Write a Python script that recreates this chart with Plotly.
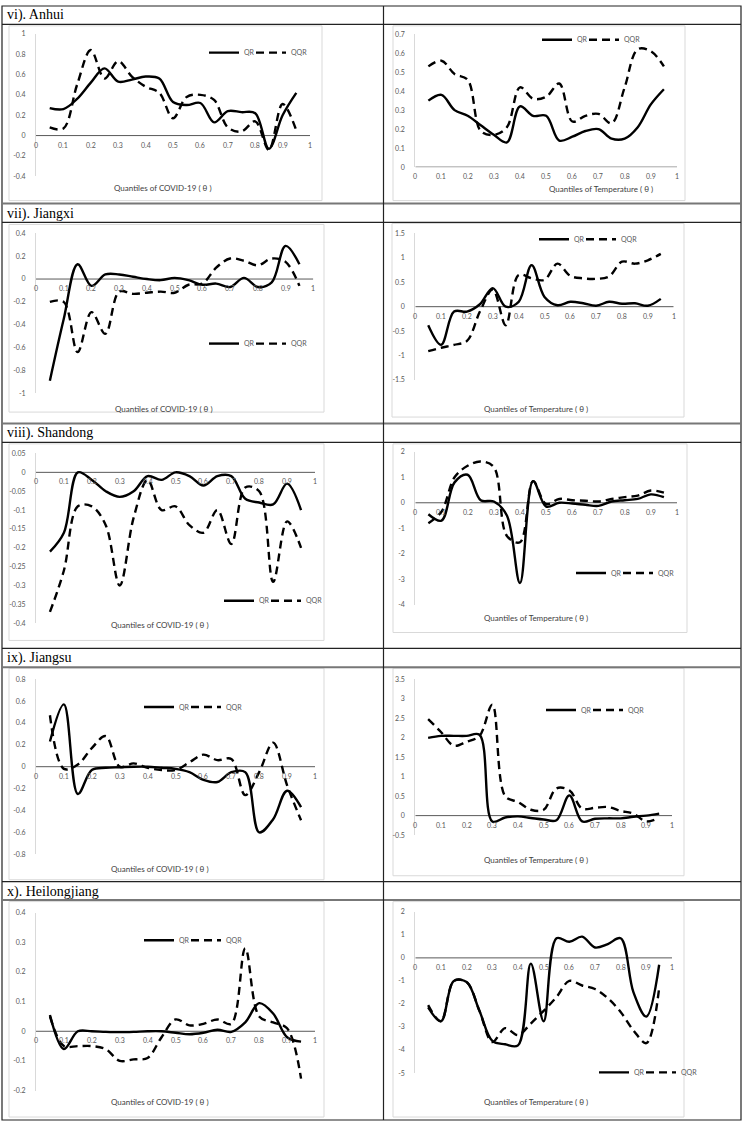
import plotly.graph_objects as go

W, H = 743, 1125

# ---------------- data ----------------
quantiles = [0.05, 0.10, 0.15, 0.20, 0.25, 0.30, 0.35, 0.40, 0.45, 0.50,
             0.55, 0.60, 0.65, 0.70, 0.75, 0.80, 0.85, 0.90, 0.95]
x_tick_labels = ["0", "0.1", "0.2", "0.3", "0.4", "0.5", "0.6", "0.7", "0.8", "0.9", "1"]
series_names = ["QR", "QQR"]
row_labels = ["vi). Anhui", "vii). Jiangxi", "viii). Shandong", "ix). Jiangsu", "x). Heilongjiang"]
x_titles = ["Quantiles of COVID-19 ( \u03b8 )", "Quantiles of Temperature ( \u03b8 )"]

anhui_covid_qr = [0.27, 0.26, 0.36, 0.52, 0.66, 0.53, 0.55, 0.58, 0.56, 0.33,
                  0.30, 0.32, 0.13, 0.24, 0.23, 0.22, -0.13, 0.20, 0.42]
anhui_covid_qqr = [0.08, 0.07, 0.50, 0.84, 0.56, 0.73, 0.58, 0.48, 0.42, 0.17,
                   0.38, 0.40, 0.35, 0.08, 0.04, 0.14, -0.14, 0.31, 0.05]
anhui_covid_yticks = ["-0.4", "-0.2", "0", "0.2", "0.4", "0.6", "0.8", "1"]

anhui_temp_qr = [0.35, 0.38, 0.30, 0.27, 0.22, 0.17, 0.13, 0.32, 0.27, 0.27,
                 0.14, 0.16, 0.19, 0.20, 0.15, 0.15, 0.21, 0.33, 0.41]
anhui_temp_qqr = [0.53, 0.56, 0.49, 0.46, 0.19, 0.17, 0.21, 0.42, 0.36, 0.37,
                  0.44, 0.24, 0.27, 0.28, 0.23, 0.42, 0.62, 0.61, 0.53]
anhui_temp_yticks = ["0", "0.1", "0.2", "0.3", "0.4", "0.5", "0.6", "0.7"]

jiangxi_covid_qr = [-0.89, -0.35, 0.13, -0.06, 0.04, 0.04, 0.02, 0.00, -0.01, 0.01,
                    -0.01, -0.05, -0.04, -0.07, 0.01, -0.07, -0.03, 0.29, 0.13]
jiangxi_covid_qqr = [-0.20, -0.20, -0.64, -0.29, -0.48, -0.11, -0.13, -0.12, -0.11, -0.12,
                     -0.05, -0.04, 0.10, 0.18, 0.16, 0.12, 0.18, 0.15, -0.06]
jiangxi_covid_yticks = ["-1", "-0.8", "-0.6", "-0.4", "-0.2", "0", "0.2", "0.4"]

jiangxi_temp_qr = [-0.38, -0.78, -0.10, -0.10, 0.05, 0.38, 0.00, 0.10, 0.85, 0.20,
                   0.03, 0.10, 0.07, 0.02, 0.10, 0.06, 0.07, 0.02, 0.16]
jiangxi_temp_qqr = [-0.91, -0.84, -0.78, -0.70, -0.10, 0.35, -0.38, 0.65, 0.58, 0.55,
                    0.88, 0.63, 0.58, 0.57, 0.62, 0.92, 0.88, 0.95, 1.08]
jiangxi_temp_yticks = ["-1.5", "-1", "-0.5", "0", "0.5", "1", "1.5"]

shandong_covid_qr = [-0.21, -0.16, 0.00, -0.02, -0.05, -0.065, -0.05, -0.01, -0.02, 0.00,
                     -0.01, -0.035, -0.01, -0.01, -0.07, -0.08, -0.085, -0.03, -0.10]
shandong_covid_qqr = [-0.37, -0.26, -0.09, -0.09, -0.14, -0.30, -0.12, -0.02, -0.10, -0.09,
                      -0.14, -0.16, -0.10, -0.19, -0.04, -0.05, -0.29, -0.13, -0.20]
shandong_covid_yticks = ["-0.4", "-0.35", "-0.3", "-0.25", "-0.2", "-0.15", "-0.1", "-0.05", "0", "0.05"]

shandong_temp_qr = [-0.45, -0.70, 0.80, 1.10, 0.10, 0.05, -0.50, -3.15, 0.85, -0.15,
                    0.00, -0.03, -0.08, -0.12, 0.05, 0.10, 0.15, 0.33, 0.22]
shandong_temp_qqr = [-0.80, -0.35, 1.00, 1.45, 1.62, 1.40, -1.30, -1.55, 0.85, -0.05,
                     0.15, 0.10, 0.08, 0.05, 0.15, 0.22, 0.28, 0.48, 0.40]
shandong_temp_yticks = ["-4", "-3", "-2", "-1", "0", "1", "2"]

jiangsu_covid_qr = [0.23, 0.57, -0.25, -0.03, -0.01, -0.005, 0.00, 0.00, -0.01, -0.02,
                    -0.05, -0.12, -0.14, -0.05, -0.05, -0.60, -0.48, -0.22, -0.37]
jiangsu_covid_qqr = [0.47, -0.02, 0.02, 0.17, 0.28, 0.00, 0.03, -0.01, -0.03, -0.03,
                     0.04, 0.11, 0.06, 0.07, -0.26, -0.05, 0.22, -0.17, -0.49]
jiangsu_covid_yticks = ["-0.8", "-0.6", "-0.4", "-0.2", "0", "0.2", "0.4", "0.6", "0.8"]

jiangsu_temp_qr = [2.00, 2.05, 2.05, 2.05, 2.08, -0.15, -0.05, -0.02, -0.06, -0.10,
                   -0.12, 0.52, -0.15, -0.08, -0.07, -0.07, -0.03, 0.00, 0.05]
jiangsu_temp_qqr = [2.48, 2.15, 1.80, 1.90, 2.05, 2.85, 0.50, 0.35, 0.15, 0.15,
                    0.70, 0.65, 0.18, 0.20, 0.22, 0.12, 0.05, -0.15, -0.05]
jiangsu_temp_yticks = ["-0.5", "0", "0.5", "1", "1.5", "2", "2.5", "3", "3.5"]

heilongjiang_covid_qr = [0.055, -0.06, 0.00, 0.00, -0.002, -0.003, -0.002, 0.00, 0.00, -0.005,
                         -0.01, -0.005, 0.005, -0.002, 0.03, 0.095, 0.06, -0.02, -0.035]
heilongjiang_covid_qqr = [0.05, -0.05, -0.05, -0.05, -0.06, -0.10, -0.095, -0.09, -0.02, 0.04,
                          0.02, 0.025, 0.04, 0.025, 0.28, 0.05, 0.03, 0.01, -0.16]
heilongjiang_covid_yticks = ["-0.2", "-0.1", "0", "0.1", "0.2", "0.3", "0.4"]

heilongjiang_temp_qr = [-2.15, -2.75, -1.00, -1.05, -2.30, -3.60, -3.75, -3.80, -0.25, -2.75,
                        0.85, 0.70, 0.92, 0.45, 0.60, 0.85, -1.50, -2.55, -0.30]
heilongjiang_temp_qqr = [-2.05, -2.75, -1.00, -1.05, -2.30, -3.65, -3.05, -3.35, -2.85, -2.30,
                         -1.70, -1.00, -1.20, -1.35, -1.75, -2.35, -3.15, -3.70, -1.30]
heilongjiang_temp_yticks = ["-5", "-4", "-3", "-2", "-1", "0", "1", "2"]

# ---------------- layout (pixel geometry) ----------------
# plot box: (x_left, x_right, y_px_of_top_tick, y_px_of_bottom_tick)
charts = [
    dict(qr=anhui_covid_qr, qqr=anhui_covid_qqr, yt=anhui_covid_yticks, col=0,
         box=(36, 310, 29, 172.5), frame=(9, 322, 21, 197), title_xy=(163, 184), leg=(212, 50)),
    dict(qr=anhui_temp_qr, qqr=anhui_temp_qqr, yt=anhui_temp_yticks, col=1,
         box=(415.3, 677, 29.3, 163.3), frame=(393, 685, 21, 197), title_xy=(601, 185), leg=(545, 37)),
    dict(qr=jiangxi_covid_qr, qqr=jiangxi_covid_qqr, yt=jiangxi_covid_yticks, col=0,
         box=(36, 313.3, 230, 391), frame=(9, 324, 221, 410), title_xy=(164, 407), leg=(212, 343)),
    dict(qr=jiangxi_temp_qr, qqr=jiangxi_temp_qqr, yt=jiangxi_temp_yticks, col=1,
         box=(415.3, 673.7, 230, 377.7), frame=(392, 684, 220, 415), title_xy=(536, 407), leg=(542, 238)),
    dict(qr=shandong_covid_qr, qqr=shandong_covid_qqr, yt=shandong_covid_yticks, col=0,
         box=(36, 315, 451.7, 622.7), frame=(9, 324, 442, 640), title_xy=(160, 624), leg=(227, 602)),
    dict(qr=shandong_temp_qr, qqr=shandong_temp_qqr, yt=shandong_temp_yticks, col=1,
         box=(415.3, 677, 450, 604), frame=(393, 687, 442, 632), title_xy=(536, 617), leg=(579, 574)),
    dict(qr=jiangsu_covid_qr, qqr=jiangsu_covid_qqr, yt=jiangsu_covid_yticks, col=0,
         box=(36, 315, 679, 855.3), frame=(9, 324, 668, 881), title_xy=(160, 870), leg=(147, 709)),
    dict(qr=jiangsu_temp_qr, qqr=jiangsu_temp_qqr, yt=jiangsu_temp_yticks, col=1,
         box=(415.3, 672, 679.3, 836), frame=(393, 684, 668, 877), title_xy=(536, 861), leg=(549, 712)),
    dict(qr=heilongjiang_covid_qr, qqr=heilongjiang_covid_qqr, yt=heilongjiang_covid_yticks, col=0,
         box=(36, 315, 914.3, 1093.3), frame=(9, 324, 903, 1120), title_xy=(160, 1105), leg=(147, 944)),
    dict(qr=heilongjiang_temp_qr, qqr=heilongjiang_temp_qqr, yt=heilongjiang_temp_yticks, col=1,
         box=(415.3, 672, 913.3, 1075.7), frame=(393, 684, 903, 1120), title_xy=(536, 1105), leg=(602, 1077)),
]

def px(x):
    return x / W

def py(y):
    return 1 - y / H

TICK_FONT = dict(family="Lato, 'Open Sans', sans-serif", size=7, color="#595959")
fig = go.Figure()
shapes = []
annotations = []
layout = {}
legend_count = 0

for i, c in enumerate(charts):
    n = "" if i == 0 else str(i + 1)
    xa, ya = "xaxis" + n, "yaxis" + n
    xr, yr = "x" + n, "y" + n
    yvals = [float(t) for t in c["yt"]]
    ymin, ymax = min(yvals), max(yvals)
    x0, x1, ytop, ybot = c["box"]
    lx, ly = c["leg"]

    for k, (name, vals, dash) in enumerate([(series_names[0], c["qr"], "solid"),
                                            (series_names[1], c["qqr"], "8px,5px")]):
        legend_count += 1
        leg = "legend" if legend_count == 1 else "legend" + str(legend_count)
        fig.add_trace(go.Scatter(
            x=quantiles, y=vals, mode="lines", name=name,
            line=dict(color="black", width=2.4, shape="spline", smoothing=1.0, dash=dash),
            xaxis=xr, yaxis=yr, legend=leg, hoverinfo="skip"))
        item_x = lx - 3 if k == 0 else lx + 44
        layout[leg] = dict(x=px(item_x - 5), y=py(ly - 2), xanchor="left", yanchor="middle",
                           orientation="h", bgcolor="rgba(0,0,0,0)", font=TICK_FONT,
                           itemwidth=30, tracegroupgap=0, borderwidth=0)

    layout[xa] = dict(domain=[px(x0), px(x1)], range=[0, 1], visible=False, anchor=yr, fixedrange=True)
    layout[ya] = dict(domain=[py(ybot), py(ytop)], range=[ymin, ymax], anchor=xr,
                      tickvals=yvals, ticktext=c["yt"], tickfont=TICK_FONT,
                      showgrid=False, zeroline=False, showline=True, linecolor="#d9d9d9",
                      linewidth=1, ticks="", ticklabelstandoff=8, fixedrange=True)

    # chart area frame
    fx0, fx1, fy0, fy1 = c["frame"]
    shapes.append(dict(type="rect", xref="paper", yref="paper", x0=px(fx0), x1=px(fx1),
                       y0=py(fy1), y1=py(fy0), line=dict(color="#d9d9d9", width=1), layer="below"))
    # horizontal (category) axis at y = 0
    shapes.append(dict(type="line", xref=xr, yref=yr, x0=0, x1=1, y0=0, y1=0,
                       line=dict(color="#595959", width=1), layer="below"))
    for t in x_tick_labels:
        annotations.append(dict(x=float(t), y=0, xref=xr, yref=yr, text=t, showarrow=False,
                                yanchor="top", yshift=-3, font=TICK_FONT))
    annotations.append(dict(x=px(c["title_xy"][0]), y=py(c["title_xy"][1]), xref="paper", yref="paper",
                            text=x_titles[c["col"]], showarrow=False, xanchor="center", yanchor="middle",
                            font=dict(family="Lato, 'Open Sans', sans-serif", size=8, color="#404040")))

# ---------------- table grid ----------------
grid_dark = dict(color="#222222", width=1.2)
grid_gray = dict(color="#777777", width=2)
shapes.append(dict(type="rect", xref="paper", yref="paper", x0=px(2), x1=px(741), y0=py(1123), y1=py(1),
                   line=grid_dark))
for yy, style in [(19.5, grid_dark), (200, grid_gray), (219, grid_dark), (421.5, grid_gray), (440.5, grid_dark),
                  (648, grid_dark), (667, grid_gray), (883, grid_dark), (901.5, grid_gray)]:
    shapes.append(dict(type="line", xref="paper", yref="paper", x0=px(2), x1=px(741), y0=py(yy), y1=py(yy),
                       line=style))
shapes.append(dict(type="line", xref="paper", yref="paper", x0=px(383.5), x1=px(383.5), y0=py(1), y1=py(1123),
                   line=grid_dark))

label_y = [10.5, 210, 431, 658, 893]
for lab, yy in zip(row_labels, label_y):
    annotations.append(dict(x=px(5), y=py(yy), xref="paper", yref="paper", text=lab, showarrow=False,
                            xanchor="left", yanchor="middle",
                            font=dict(family="'Liberation Serif', 'Times New Roman', serif", size=14, color="black")))

fig.update_layout(width=W, height=H, margin=dict(l=0, r=0, t=0, b=0),
                  paper_bgcolor="white", plot_bgcolor="white",
                  showlegend=True, shapes=shapes, annotations=annotations, **layout)

fig.write_html("out.html", config={"displayModeBar": False},
               post_script="document.body.style.margin='0';document.body.style.padding='0';")
